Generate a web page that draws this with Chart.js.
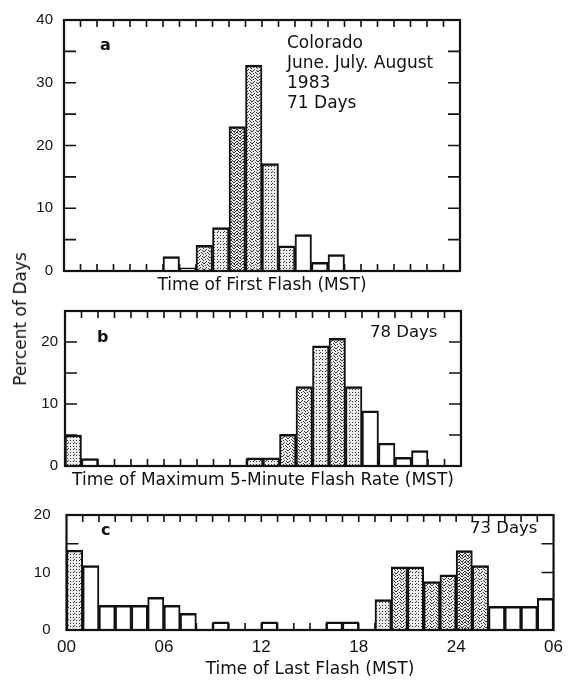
<!DOCTYPE html>
<html>
<head>
<meta charset="utf-8">
<script src="https://cdn.jsdelivr.net/npm/chart.js@4.4.0/dist/chart.umd.min.js"></script>
<style>
  html, body { margin: 0; padding: 0; background: #fff; }
  #wrap { position: relative; width: 570px; height: 681px; overflow: hidden; font-family: 'DejaVu Sans', sans-serif; color: #111; }
  #wrap canvas { position: absolute; left: 0; }
  .note { position: absolute; white-space: nowrap; font-size: 17px; line-height: 20px; }
  .tag { position: absolute; font-weight: bold; font-size: 16px; line-height: 15px; }
  .ylab { position: absolute; left: 20px; top: 319px; font-size: 17px; line-height: 20px; white-space: nowrap;
          transform: translate(-50%, -50%) rotate(-90deg); }
</style>
</head>
<body>
<div id="wrap">
  <canvas id="chartA" width="570" height="300" style="top:0"></canvas>
  <canvas id="chartB" width="570" height="200" style="top:295px"></canvas>
  <canvas id="chartC" width="570" height="191" style="top:490px"></canvas>

  <div class="tag" style="left:100px; top:37px">a</div>
  <div class="note" style="left:287px; top:32px">Colorado<br>June. July. August<br>1983<br>71 Days</div>
  <div class="tag" style="left:97px; top:329px">b</div>
  <div class="note" style="left:370px; top:322px; font-size:16.5px">78 Days</div>
  <div class="tag" style="left:101px; top:522px">c</div>
  <div class="note" style="left:470px; top:518px; font-size:16.5px">73 Days</div>
  <div class="ylab">Percent of Days</div>
</div>

<script>
// hourly bins (MST); panel c runs on to 06 of the next day
const hoursDay = [0, 1, 2, 3, 4, 5, 6, 7, 8, 9, 10, 11, 12, 13, 14, 15, 16, 17, 18, 19, 20, 21, 22, 23];
const hoursLong = [0, 1, 2, 3, 4, 5, 6, 7, 8, 9, 10, 11, 12, 13, 14, 15, 16, 17, 18, 19, 20, 21, 22, 23,
                   24, 25, 26, 27, 28, 29];
const hourLabels = ['00', '06', '12', '18', '24', '06'];

// percent of days per hour
const firstFlash = [0, 0, 0, 0, 0, 0, 2.3, 0.5, 4.1, 6.9, 23.0, 32.8, 17.1, 4.0, 5.8, 1.4, 2.6, 0, 0, 0, 0, 0, 0, 0];
const maxFlashRate = [5.0, 1.2, 0, 0, 0, 0, 0, 0, 0, 0, 0, 1.3, 1.3, 5.1, 12.8, 19.4, 20.6, 12.8, 8.9, 3.7, 1.4, 2.5, 0, 0];
const lastFlash = [13.9, 11.2, 4.3, 4.3, 4.3, 5.7, 4.3, 2.9, 0, 1.4, 0, 0, 1.4, 0, 0, 0, 1.4, 1.4, 0, 5.3,
                   11.0, 11.0, 8.4, 9.6, 13.8, 11.2, 4.1, 4.1, 4.1, 5.5];

// stipple density of each bar (0 = white)
const shadeFirst = [0, 0, 0, 0, 0, 0, 0, 0, 2, 1, 3, 2, 1, 1, 0, 0, 0, 0, 0, 0, 0, 0, 0, 0];
const shadeMax = [1, 0, 0, 0, 0, 0, 0, 0, 0, 0, 0, 1, 1, 2, 2, 1, 2, 1, 0, 0, 0, 0, 0, 0];
const shadeLast = [1, 0, 0, 0, 0, 0, 0, 0, 0, 0, 0, 0, 0, 0, 0, 0, 0, 0, 0, 1, 2, 1, 2, 2, 3, 2, 0, 0, 0, 0];

const dotOrder = [[1, 1], [4, 4], [4, 1], [1, 4], [2, 3], [5, 2], [0, 5], [3, 0], [5, 5], [2, 0], [0, 2], [3, 5],
                  [3, 3], [0, 0]];
const dotCount = [0, 5, 9, 14];

/**
 * speckled fill like the printed stipple
 */
function stipple(level) {
  if (!level) return '#ffffff';
  const c = document.createElement('canvas');
  c.width = 6;
  c.height = 6;
  const g = c.getContext('2d');
  g.fillStyle = '#ececec';
  g.fillRect(0, 0, 6, 6);
  g.fillStyle = '#333333';
  dotOrder.slice(0, dotCount[level]).forEach(([dx, dy]) => g.fillRect(dx, dy, 1, 1));
  return g.createPattern(c, 'repeat');
}

/**
 * box around the plot with inward ticks on all four sides
 */
const frameTicks = {
  id: 'frameTicks',
  beforeDatasetsDraw(chart) {
    const { ctx, chartArea: a, scales: { x, y } } = chart;
    ctx.save();
    ctx.strokeStyle = '#111';
    ctx.lineWidth = 1.6;
    ctx.beginPath();
    x.ticks.forEach(t => {
      if (t.value <= x.min || t.value >= x.max) return;
      const px = x.getPixelForValue(t.value);
      ctx.moveTo(px, a.top);
      ctx.lineTo(px, a.top + 7);
      ctx.moveTo(px, a.bottom);
      ctx.lineTo(px, a.bottom - 7);
    });
    y.ticks.forEach(t => {
      if (t.value <= y.min || t.value >= y.max || t.value % 5 !== 0) return;
      const py = y.getPixelForValue(t.value);
      ctx.moveTo(a.left, py);
      ctx.lineTo(a.left + 12, py);
      ctx.moveTo(a.right, py);
      ctx.lineTo(a.right - 12, py);
    });
    ctx.stroke();
    ctx.restore();
  },
  afterDatasetsDraw(chart) {
    const { ctx, chartArea: a } = chart;
    ctx.save();
    ctx.strokeStyle = '#111';
    ctx.lineWidth = 2.2;
    ctx.strokeRect(a.left, a.top, a.right - a.left, a.bottom - a.top);
    ctx.restore();
  }
};

function makePanel(canvasId, cfg) {
  const bins = cfg.hours.map((h, i) => ({ x: h + 0.5, y: cfg.values[i] }));
  return new Chart(document.getElementById(canvasId), {
    type: 'bar',
    data: {
      datasets: [{
        data: bins,
        backgroundColor: cfg.shades.map(stipple),
        borderColor: '#111',
        borderWidth: { top: 2.5, left: 2, right: 2, bottom: 0 },
        borderSkipped: 'start',
        barPercentage: 1,
        categoryPercentage: 1
      }]
    },
    options: {
      responsive: false,
      animation: false,
      devicePixelRatio: 1,
      layout: { padding: cfg.padding },
      plugins: { legend: { display: false }, tooltip: { enabled: false } },
      scales: {
        x: {
          type: 'linear',
          min: 0,
          max: cfg.hours.length,
          offset: false,
          grid: { display: false, drawTicks: false },
          border: { display: false },
          ticks: {
            display: cfg.xLabels,
            stepSize: 1,
            autoSkip: false,
            maxRotation: 0,
            padding: 7,
            color: '#111',
            font: { family: "'Liberation Sans', sans-serif", size: 17 },
            callback: v => (v % 6 === 0 ? hourLabels[v / 6] : '')
          },
          title: {
            display: true,
            text: cfg.xTitle,
            color: '#111',
            font: { family: "'DejaVu Sans', sans-serif", size: 17 },
            padding: { top: 0, bottom: cfg.titlePad }
          },
          afterFit: s => { s.height = cfg.xHeight; }
        },
        y: {
          min: 0,
          max: cfg.yMax,
          grid: { display: false, drawTicks: false },
          border: { display: false },
          ticks: {
            stepSize: 5,
            autoSkip: false,
            padding: cfg.yPad,
            color: '#111',
            font: { family: "'Liberation Sans', sans-serif", size: 15 },
            callback: v => (v % 10 === 0 ? v : '')
          },
          afterFit: s => { s.width = cfg.yWidth; }
        }
      }
    },
    plugins: [frameTicks]
  });
}

makePanel('chartA', {
  hours: hoursDay, values: firstFlash, shades: shadeFirst,
  xTitle: 'Time of First Flash (MST)', xLabels: false, yMax: 40,
  padding: { top: 12.5, right: 110, left: 0, bottom: 0 },
  xHeight: 29, titlePad: 3.8, yWidth: 64, yPad: 11
});

makePanel('chartB', {
  hours: hoursDay, values: maxFlashRate, shades: shadeMax,
  xTitle: 'Time of Maximum 5-Minute Flash Rate (MST)', xLabels: false, yMax: 25,
  padding: { top: 10, right: 109, left: 0, bottom: 0 },
  xHeight: 29, titlePad: 3.8, yWidth: 65, yPad: 7
});

makePanel('chartC', {
  hours: hoursLong, values: lastFlash, shades: shadeLast,
  xTitle: 'Time of Last Flash (MST)', xLabels: true, yMax: 20,
  padding: { top: 9, right: 13.5, left: 0, bottom: 0 },
  xHeight: 51, titlePad: 0.8, yWidth: 66.5, yPad: 16
});
</script>
</body>
</html>
